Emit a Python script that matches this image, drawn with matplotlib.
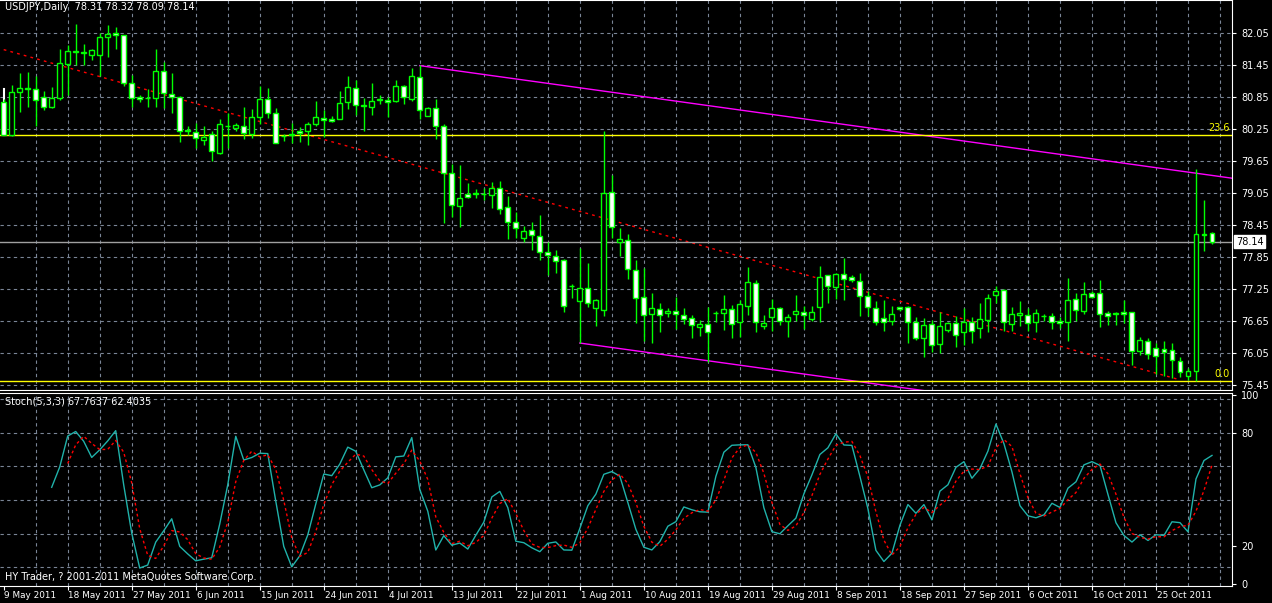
import numpy as np
import matplotlib
matplotlib.use("Agg")
import matplotlib.pyplot as plt
from matplotlib.transforms import blended_transform_factory

opens = [80.75,80.14,80.94,81.00,81.00,80.86,80.67,80.83,81.47,81.70,81.68,81.64,81.64,81.98,82.05,82.01,81.11,80.85,80.83,80.83,
         81.34,80.91,80.85,80.22,80.19,80.05,80.16,79.81,80.30,80.27,80.30,80.15,80.47,80.81,80.56,80.12,80.14,80.21,80.22,80.34,
         80.46,80.44,80.44,80.75,81.02,80.69,80.66,80.80,80.79,80.77,81.06,80.82,81.22,80.49,80.64,80.31,79.42,78.80,79.03,79.04,
         79.03,79.01,79.14,78.79,78.51,78.20,78.36,78.24,77.94,77.88,77.80,77.31,77.03,77.27,76.89,76.86,79.08,78.13,78.17,77.61,
         77.10,76.78,76.87,76.81,76.85,76.76,76.71,76.55,76.60,76.80,76.81,76.87,76.63,76.94,77.36,76.56,76.72,76.89,76.66,76.78,
         76.82,76.69,76.91,77.51,77.29,77.53,77.48,77.41,77.13,76.89,76.71,76.66,76.91,76.91,76.64,76.34,76.60,76.22,76.48,76.61,
         76.44,76.64,76.52,76.67,77.14,77.23,76.59,76.76,76.76,76.64,76.74,76.74,76.66,76.64,77.06,76.84,77.17,77.17,76.80,76.79,
         76.83,76.82,76.09,76.28,76.14,76.13,76.11,75.91,75.62,75.72,78.27,78.31]
highs = [80.81,81.08,81.30,81.32,81.24,80.96,81.04,81.75,81.83,82.22,81.85,81.76,82.06,82.21,82.16,82.01,81.27,80.89,81.00,81.75,
         81.51,81.30,80.87,80.30,80.37,80.30,80.21,80.44,80.55,80.37,80.67,80.63,81.05,81.02,80.64,80.16,80.37,80.29,80.39,80.78,
         80.61,80.49,80.97,81.25,81.17,80.83,81.11,80.89,80.85,81.17,81.08,81.39,81.46,80.67,80.81,80.35,79.60,79.58,79.24,79.12,
         79.15,79.26,79.27,79.00,78.69,78.44,78.51,78.64,78.13,77.99,77.81,77.35,78.02,77.74,77.07,80.21,79.39,78.39,78.29,77.79,
         77.64,77.17,76.99,76.89,77.11,76.89,76.77,76.67,76.92,76.84,77.14,76.96,77.05,77.67,77.42,76.77,77.06,76.92,76.79,77.14,
         76.94,76.94,77.69,77.52,77.55,77.83,77.52,77.55,77.21,77.02,77.05,76.94,76.92,76.94,76.72,76.71,76.67,76.83,76.64,76.74,
         76.89,76.72,76.99,77.16,77.30,77.25,76.92,77.03,76.89,76.87,76.79,76.80,76.72,77.46,77.17,77.39,77.21,77.42,76.85,76.83,
         77.05,76.83,76.36,76.34,76.25,76.28,76.25,75.97,75.77,79.50,78.93,78.32]
lows = [80.14,80.12,80.58,80.67,80.30,80.60,80.64,80.79,80.89,81.46,81.46,81.55,81.24,81.60,81.76,81.05,80.67,80.75,80.67,80.67,
        80.64,80.55,80.00,80.14,79.89,79.96,79.66,79.79,79.89,80.22,80.06,80.08,80.35,80.46,79.99,80.02,79.99,80.01,79.96,80.30,
        80.11,80.39,80.44,80.62,80.52,80.22,80.52,80.72,80.47,80.75,80.72,80.77,80.44,80.49,80.06,78.49,78.61,78.41,78.95,78.96,
        78.93,78.78,78.65,78.19,78.21,78.14,77.99,77.79,77.52,77.56,76.83,77.08,76.24,76.91,76.56,76.75,78.21,77.88,77.44,76.61,
        76.27,76.25,76.44,76.72,76.51,76.59,76.34,76.38,75.89,76.64,76.49,76.34,76.36,76.77,76.44,76.50,76.47,76.57,76.36,76.66,
        76.51,76.66,76.64,77.00,77.07,77.04,77.39,76.75,76.74,76.58,76.46,76.58,76.85,76.25,76.30,75.97,76.08,76.06,76.44,76.16,
        76.21,76.25,76.34,76.44,77.00,76.46,76.47,76.56,76.47,76.44,76.66,76.50,76.52,76.27,76.66,76.79,77.08,76.55,76.58,76.58,
        76.61,75.83,76.02,75.94,75.66,75.63,75.58,75.60,75.54,75.53,77.96,78.09]
closes = [80.14,80.94,81.02,81.02,80.79,80.67,80.83,81.49,81.71,81.71,81.69,81.73,81.98,82.04,82.01,81.11,80.83,80.81,80.83,81.34,
          80.92,80.86,80.22,80.22,80.08,80.11,79.84,80.34,80.31,80.33,80.17,80.47,80.81,80.55,79.99,80.12,80.15,80.17,80.34,80.47,
          80.42,80.40,80.74,81.04,80.71,80.69,80.78,80.81,80.76,81.06,80.85,81.24,80.61,80.64,80.31,79.42,78.82,78.96,78.97,79.04,
          79.03,79.14,78.76,78.51,78.39,78.34,78.26,77.94,77.89,77.78,76.94,77.31,77.27,77.00,77.04,79.05,78.41,78.19,77.62,77.08,
          76.76,76.89,76.76,76.85,76.78,76.69,76.58,76.60,76.44,76.80,76.87,76.59,76.97,77.38,76.63,76.62,76.89,76.66,76.72,76.85,
          76.76,76.82,77.48,77.30,77.53,77.44,77.43,77.13,76.91,76.64,76.64,76.78,76.87,76.63,76.34,76.58,76.20,76.56,76.62,76.39,
          76.64,76.47,76.69,77.09,77.22,76.64,76.78,76.80,76.62,76.80,76.74,76.63,76.61,77.04,76.86,77.16,77.10,76.79,76.74,76.79,
          76.79,76.09,76.29,76.04,75.99,76.07,75.92,75.69,75.72,78.28,78.27,78.14]

date_labels = ["9 May 2011","18 May 2011","27 May 2011","6 Jun 2011","15 Jun 2011","24 Jun 2011","4 Jul 2011",
               "13 Jul 2011","22 Jul 2011","1 Aug 2011","10 Aug 2011","19 Aug 2011","29 Aug 2011","8 Sep 2011",
               "18 Sep 2011","27 Sep 2011","6 Oct 2011","16 Oct 2011","25 Oct 2011"]
price_ticks = [75.45,76.05,76.65,77.25,77.85,78.45,79.05,79.65,80.25,80.85,81.45,82.05]
stoch_ticks = [0,20,80,100]
fib_levels = [80.14,75.53]
fib_names = ["23.6","0.0"]
stoch_title = "Stoch(5,3,3) 67.7637 62.4035"

O = np.array(opens); H = np.array(highs); L = np.array(lows); C = np.array(closes)
n = len(C)
x = np.arange(n)

# Stochastic (5,3,3) derived from the candles
k_raw_num = np.full(n, np.nan); k_raw_den = np.full(n, np.nan)
for i in range(4, n):
    ll = L[i-4:i+1].min(); hh = H[i-4:i+1].max()
    k_raw_num[i] = C[i]-ll; k_raw_den[i] = hh-ll
K = np.full(n, np.nan)
for i in range(6, n):
    K[i] = 100*k_raw_num[i-2:i+1].sum()/k_raw_den[i-2:i+1].sum()
D = np.full(n, np.nan)
for i in range(8, n):
    D[i] = K[i-2:i+1].mean()

W, Hpx = 1272, 603
fig = plt.figure(figsize=(12.72, 6.03), dpi=100, facecolor="black")
ax = fig.add_axes([0, (Hpx-390)/Hpx, 1232/W, 390/Hpx], facecolor="black")
ax2 = fig.add_axes([0, (Hpx-586)/Hpx, 1232/W, 193/Hpx], facecolor="black")
xl = (-0.46, 153.5)
gridc = "#7a8596"
for a in (ax, ax2):
    a.set_xlim(*xl)
    for s in a.spines.values():
        s.set_color("white")
    a.spines["left"].set_visible(False)
    a.yaxis.tick_right()
    a.tick_params(colors="white", labelsize=7, length=3)
    for v in range(4, 154, 4):
        a.axvline(v, color=gridc, lw=0.8, ls=(0, (3, 3)), zorder=0)
    a.set_xticks([])

ax.set_ylim(75.36, 82.67)
ax.set_yticks(price_ticks)
ax.set_yticklabels([f"{t:.2f}" for t in price_ticks])
for t in price_ticks:
    ax.axhline(t, color=gridc, lw=0.8, ls=(0, (3, 3)), zorder=0)

# trend lines
ax.plot([0, 147], [81.74, 75.55], color="red", lw=1, ls=(0, (2, 3)), zorder=1)
ax.plot([52, 153.5], [81.44, 79.33], color="magenta", lw=1, zorder=1)
ax.plot([72, 153.5], [76.24, 74.55], color="magenta", lw=1, zorder=1)
for lv, nm in zip(fib_levels, fib_names):
    ax.axhline(lv, color="yellow", lw=1, zorder=1)
    ax.text(153.2, lv+0.03, nm, color="yellow", fontsize=7, ha="right", va="bottom")
ax.axhline(C[-1], color="#a0a0a0", lw=1, zorder=1)
ax.text(1.003, (C[-1]-75.36)/(82.67-75.36), f"{C[-1]:.2f}", transform=ax.transAxes, fontsize=7,
        color="black", va="center", ha="left", bbox=dict(fc="white", ec="white", pad=1.2))
ax.plot([0.0, 0.0], [80.14, 81.0], color="white", lw=1.5)

# candles
ax.vlines(x, L, H, color="#00ff00", lw=1, zorder=2)
bull = C >= O
body_lo = np.minimum(O, C); body_h = np.maximum(np.abs(C-O), 0.005)
ax.bar(x, body_h, bottom=body_lo, width=0.62,
       color=np.where(bull, "black", "white"), edgecolor="#00ff00", lw=1, zorder=3)

ax.text(0.004, 0.995, f"USDJPY,Daily  {O[-1]:.2f} {H[-1]:.2f} {L[-1]:.2f} {C[-1]:.2f}",
        transform=ax.transAxes, color="white", fontsize=7, va="top", ha="left")

# stochastic
ax2.set_ylim(-1, 101)
ax2.set_yticks(stoch_ticks)
ax2.set_yticklabels([str(t) for t in stoch_ticks])
for t in [97.6, 80, 62.4, 44.4, 26.7, 9.1]:
    ax2.axhline(t, color=gridc, lw=0.8, ls=(0, (3, 3)), zorder=0)
ax2.plot(x, K, color="#20b2aa", lw=1)
ax2.plot(x, D, color="red", lw=1, ls=(0, (2, 2)))
ax2.text(0.004, 0.98, stoch_title, transform=ax2.transAxes,
         color="white", fontsize=7, va="top")
ax2.text(0.004, 0.02, "HY Trader, ? 2001-2011 MetaQuotes Software Corp.", transform=ax2.transAxes,
         color="white", fontsize=7, va="bottom")
tick_pos = np.arange(0, 8*len(date_labels), 8)
ax2.set_xticks(tick_pos)
ax2.set_xticklabels([])
ax2.tick_params(axis="x", length=3, colors="white")
tr = blended_transform_factory(ax2.transData, fig.transFigure)
for p, lab in zip(tick_pos, date_labels):
    ax2.text(p + 0.1, 8/Hpx, lab, transform=tr, fontsize=6.4, color="white", ha="left", va="center",
             clip_on=False)

fig.savefig("out.png", dpi=100, facecolor="black")
